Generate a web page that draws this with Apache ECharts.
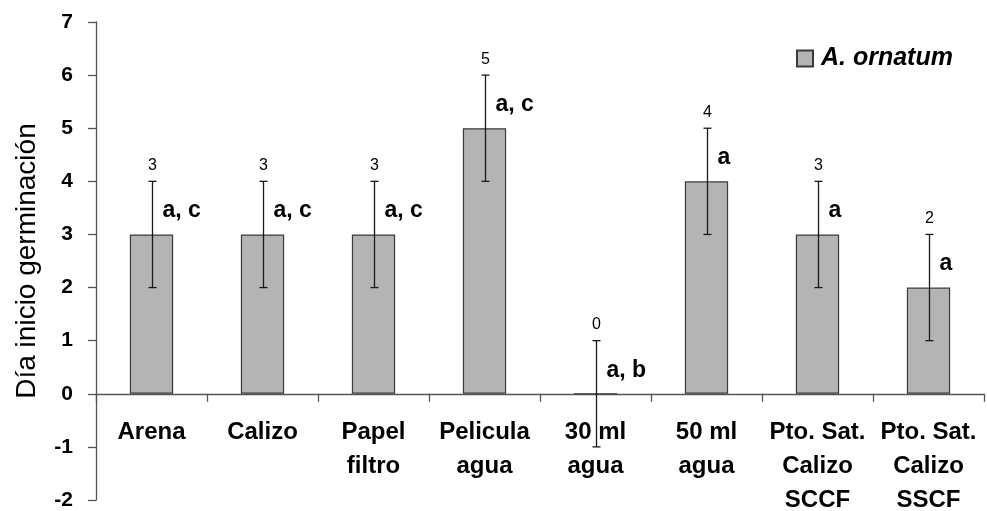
<!DOCTYPE html>
<html>
<head>
<meta charset="utf-8">
<script src="https://cdn.jsdelivr.net/npm/echarts@6/dist/echarts.min.js"></script>
<style>
  html, body { margin: 0; padding: 0; background: #fff; }
  #chart { width: 987px; height: 511px; }
</style>
</head>
<body>
<div id="chart"></div>
<script>
// Germination start day per substrate treatment
const categories = ['Arena', 'Calizo', 'Papel\nfiltro', 'Pelicula\nagua', '30 ml\nagua', '50 ml\nagua', 'Pto. Sat.\nCalizo\nSCCF', 'Pto. Sat.\nCalizo\nSSCF'];
const means = [3, 3, 3, 5, 0, 4, 3, 2];
const errors = [1, 1, 1, 1, 1, 1, 1, 1];
const letters = ['a, c', 'a, c', 'a, c', 'a, c', 'a, b', 'a', 'a', 'a'];
const yTicks = { min: -2, max: 7, step: 1 };
const seriesName = 'A. ornatum';

const FONT = "'Liberation Sans', Arial, sans-serif";
const AXIS_COLOR = '#555555';

const chart = echarts.init(document.getElementById('chart'));

const errorData = means.map((m, i) => [i, m, errors[i]]);

chart.setOption({
  animation: false,
  backgroundColor: '#ffffff',
  grid: { left: 96, right: 3, top: 22, bottom: 11, containLabel: false, outerBoundsMode: 'none' },
  legend: {
    left: 791,
    top: 41,
    itemWidth: 16,
    itemHeight: 16,
    itemGap: 10,
    icon: 'rect',
    textStyle: { fontFamily: FONT, fontSize: 25, fontWeight: 'bold', fontStyle: 'italic', color: '#000', padding: [0, 0, 0, 3] },
    data: [seriesName]
  },
  xAxis: {
    type: 'category',
    data: categories,
    offset: 0,
    axisLine: { onZero: false, lineStyle: { color: AXIS_COLOR, width: 1.3 } },
    axisTick: { show: true, length: 8, alignWithLabel: false, lineStyle: { color: AXIS_COLOR, width: 1.3 } },
    axisLabel: {
      interval: 0,
      margin: 22,
      fontFamily: FONT,
      fontSize: 24,
      fontWeight: 'bold',
      color: '#000',
      lineHeight: 34
    },
    splitLine: { show: false }
  },
  yAxis: {
    type: 'value',
    min: yTicks.min,
    max: yTicks.max,
    interval: yTicks.step,
    name: 'Día inicio germinación',
    nameLocation: 'middle',
    nameGap: 55,
    nameRotate: 90,
    nameTextStyle: { fontFamily: FONT, fontSize: 28, color: '#000' },
    axisLine: { show: true, onZero: false, lineStyle: { color: AXIS_COLOR, width: 1.3 } },
    axisTick: { show: true, length: 8, lineStyle: { color: AXIS_COLOR, width: 1.3 } },
    axisLabel: { margin: 23, fontFamily: FONT, fontSize: 21, fontWeight: 'bold', color: '#000' },
    splitLine: { show: false }
  },
  series: [
    {
      name: seriesName,
      type: 'bar',
      data: means,
      barWidth: '39%',
      itemStyle: { color: '#b4b4b4', borderColor: '#3a3a3a', borderWidth: 1.2 },
      z: 2
    },
    {
      type: 'custom',
      data: errorData,
      clip: false,
      z: 5,
      silent: true,
      renderItem: function (params, api) {
        const i = params.dataIndex;
        const cat = api.value(0);
        const m = api.value(1);
        const e = api.value(2);
        const top = api.coord([cat, m + e]);
        const bot = api.coord([cat, m - e]);
        const mid = api.coord([cat, m]);
        const x = Math.round(top[0]) + 0.5;
        const cap = 4;
        const ls = { stroke: '#1a1a1a', lineWidth: 1.3 };
        return {
          type: 'group',
          children: [
            { type: 'line', shape: { x1: x, y1: top[1], x2: x, y2: bot[1] }, style: ls },
            { type: 'line', shape: { x1: x - cap, y1: top[1], x2: x + cap, y2: top[1] }, style: ls },
            { type: 'line', shape: { x1: x - cap, y1: bot[1], x2: x + cap, y2: bot[1] }, style: ls },
            {
              type: 'text',
              style: {
                x: x, y: top[1] - 16,
                text: String(m),
                align: 'center', verticalAlign: 'middle',
                font: "16px " + FONT, fill: '#000'
              }
            },
            {
              type: 'text',
              style: {
                x: x + 10, y: (top[1] + mid[1]) / 2 + 3,
                text: letters[i],
                align: 'left', verticalAlign: 'middle',
                font: "bold 23px " + FONT, fill: '#000'
              }
            }
          ]
        };
      }
    }
  ]
});

// Move the category axis (line, ticks and labels) up to the y = 0 line
const zeroY = chart.convertToPixel({ yAxisIndex: 0 }, 0);
const baseY = chart.convertToPixel({ yAxisIndex: 0 }, yTicks.min);
chart.setOption({ xAxis: { offset: zeroY - baseY } });
</script>
</body>
</html>
